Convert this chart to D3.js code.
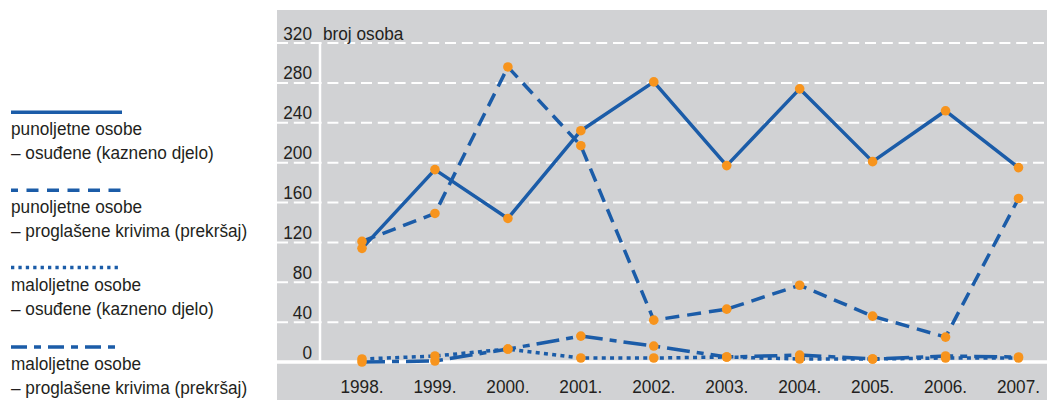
<!DOCTYPE html>
<html>
<head>
<meta charset="utf-8">
<script src="https://cdn.jsdelivr.net/npm/d3@7/dist/d3.min.js"></script>
<style>
  html, body { margin: 0; padding: 0; background: #ffffff; }
  svg { display: block; }
  text { font-family: "Liberation Sans", Arial, sans-serif; fill: #231f20; }
</style>
</head>
<body>
<svg id="chart" width="1047" height="400"></svg>
<script>
// ---- data ----
const years = ["1998.", "1999.", "2000.", "2001.", "2002.", "2003.", "2004.", "2005.", "2006.", "2007."];
const adultConvicted   = [114, 193, 144, 232, 281, 197, 274, 201, 252, 195];
const adultMisdemeanor = [121, 149, 296, 217, 42, 53, 77, 46, 25, 164];
const minorConvicted   = [3, 6, 13, 4, 4, 5, 3, 3, 4, 4];
const minorMisdemeanor = [0, 1, 13, 26, 16, 5, 7, 3, 6, 5];
const yTicks = [0, 40, 80, 120, 160, 200, 240, 280, 320];
const yTitle = "broj osoba";
const seriesNames = [
  ["punoljetne osobe", "– osuđene (kazneno djelo)"],
  ["punoljetne osobe", "– proglašene krivima (prekršaj)"],
  ["maloljetne osobe", "– osuđene (kazneno djelo)"],
  ["maloljetne osobe", "– proglašene krivima (prekršaj)"]
];

const series = [
  { name: seriesNames[0], values: adultConvicted,   dash: null,        legendDash: null,          legendOffset: 0 },
  { name: seriesNames[1], values: adultMisdemeanor, dash: "14,8",      legendDash: "12,8.5",      legendOffset: 5 },
  { name: seriesNames[2], values: minorConvicted,   dash: "4,4.3",     legendDash: "3.3,4.1",     legendOffset: 0 },
  { name: seriesNames[3], values: minorMisdemeanor, dash: "23,7,7,7",  legendDash: "16,7,7,7",    legendOffset: 0 }
];

const blue = "#1b5ca8";
const orange = "#f7941d";
const panel = "#d1d2d4";
const fontSize = 18.5;
const squeeze = 0.93;

const svg = d3.select("#chart");

function label(sel, xPos, yPos) {
  return sel.attr("transform", (d, i) => `translate(${typeof xPos === "function" ? xPos(d, i) : xPos},${typeof yPos === "function" ? yPos(d, i) : yPos}) scale(${squeeze},1)`)
    .attr("font-size", fontSize);
}

// panel
svg.append("rect").attr("x", 277).attr("y", 10).attr("width", 770).attr("height", 390).attr("fill", panel);

const x = d3.scalePoint().domain(years).range([362, 1018.5]);
const y = d3.scaleLinear().domain([0, 320]).range([362, 43]);

// gridlines
svg.append("g").selectAll("line").data(yTicks.filter(d => d > 0)).join("line")
  .attr("x1", 277).attr("x2", 1047)
  .attr("y1", d => y(d)).attr("y2", d => y(d))
  .attr("stroke", "#ffffff").attr("stroke-width", 2)
  .attr("stroke-dasharray", "11,5.8");

// vertical axis line
svg.append("line").attr("x1", 320).attr("x2", 320).attr("y1", y(320)).attr("y2", y(0))
  .attr("stroke", "#ffffff").attr("stroke-width", 2.5);
// baseline
svg.append("line").attr("x1", 277).attr("x2", 1047).attr("y1", y(0)).attr("y2", y(0))
  .attr("stroke", "#ffffff").attr("stroke-width", 3.5);

// y tick labels
label(svg.append("g").selectAll("text").data(yTicks).join("text"), 312, d => y(d) - 3.5)
  .attr("text-anchor", "end")
  .text(d => d);
label(svg.append("text"), 323, y(320) - 3.5).text(yTitle);

// x labels
label(svg.append("g").selectAll("text").data(years).join("text"), d => x(d), 393)
  .attr("text-anchor", "middle")
  .text(d => d);

// lines
const line = d3.line().x((d, i) => x(years[i])).y(d => y(d));
series.forEach(s => {
  svg.append("path").datum(s.values)
    .attr("d", line)
    .attr("fill", "none")
    .attr("stroke", blue)
    .attr("stroke-width", 3.5)
    .attr("stroke-dasharray", s.dash)
    .attr("stroke-linejoin", "round");
});
// markers
series.forEach(s => {
  svg.append("g").selectAll("circle").data(s.values).join("circle")
    .attr("cx", (d, i) => x(years[i])).attr("cy", d => y(d))
    .attr("r", 4.8).attr("fill", orange);
});

// legend
const legendTop = [112.3, 190.3, 267.5, 347];
series.forEach((s, i) => {
  const g = svg.append("g");
  g.append("line").attr("x1", 11).attr("x2", 122)
    .attr("y1", legendTop[i]).attr("y2", legendTop[i])
    .attr("stroke", blue).attr("stroke-width", 3.4)
    .attr("stroke-dasharray", s.legendDash)
    .attr("stroke-dashoffset", s.legendOffset);
  s.name.forEach((t, j) => {
    label(g.append("text"), 11, legendTop[i] + 23 + j * 24).text(t);
  });
});
</script>
</body>
</html>
